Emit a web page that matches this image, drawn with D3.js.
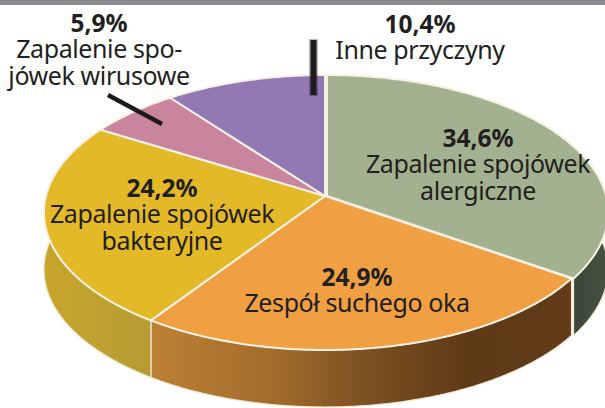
<!DOCTYPE html>
<html>
<head>
<meta charset="utf-8">
<script src="https://cdnjs.cloudflare.com/ajax/libs/d3/7.8.5/d3.min.js"></script>
<style>
  html, body { margin: 0; padding: 0; background: #fff; overflow: hidden; }
  text { font-family: "Noto Sans", sans-serif; fill: #231f20; }
</style>
</head>
<body>
<div id="chart"></div>
<script>
var names = ["Zapalenie spojówek alergiczne", "Zespół suchego oka", "Zapalenie spojówek bakteryjne", "Zapalenie spojówek wirusowe", "Inne przyczyny"];
var values = [34.6, 24.9, 24.2, 5.9, 10.4];
var valueLabels = ["34,6%", "24,9%", "24,2%", "5,9%", "10,4%"];
var labelLines = [
  ["Zapalenie spojówek", "alergiczne"],
  ["Zespół suchego oka"],
  ["Zapalenie spojówek", "bakteryjne"],
  ["Zapalenie spo-", "jówek wirusowe"],
  ["Inne przyczyny"]
];
var topColors = ["#a2b18f", "#f09f42", "#e4b927", "#c8859d", "#9279b4"];

var w = 605;
var h = 408;

// tilted disc: apex sits above the middle of the ellipse
var cx = 325;
var cy = 196;
var rx = 279;
var ry = 135.5;
var tilt = 0.12;
var depth = 57;

// the green slice sits a bit away from the rest
var firstSliceShift = 2;

// where each label block is centred, same order as names
var labelPos = [[478, 147], [357, 286], [162, 197], [99, 32], [420, 33]];

function project(a) {
  var u = Math.sin(a);
  var v = -Math.cos(a);
  var k = 1 - tilt * v;
  return [cx + rx * u / k, cy + ry * v / k];
}

function rim(d) {
  var n = Math.ceil((d.endAngle - d.startAngle) / 0.01);
  return d3.range(n + 1).map(function(i) {
    return project(d.startAngle + (d.endAngle - d.startAngle) * i / n);
  });
}

function shift(d, i) {
  return i === 0 ? "translate(" + firstSliceShift + ",0)" : null;
}

var svg = d3.select("#chart")
  .append("svg")
  .attr("width", w)
  .attr("height", h)
  .style("display", "block");

var defs = svg.append("defs");

function wallGradient(id, x1, x2, stops) {
  var g = defs.append("linearGradient")
    .attr("id", id)
    .attr("gradientUnits", "userSpaceOnUse")
    .attr("x1", x1).attr("x2", x2)
    .attr("y1", 0).attr("y2", 0);
  stops.forEach(function(s) {
    g.append("stop").attr("offset", s[0]).attr("stop-color", s[1]);
  });
}

wallGradient("wall0", 570, 605, [[0, "#3a4739"], [1, "#46523f"]]);
wallGradient("wall1", 155, 572, [[0, "#bd8034"], [0.3, "#a06a2b"], [0.5, "#7d5122"], [0.75, "#5f3a17"], [1, "#623c18"]]);
wallGradient("wall2", 44, 155, [[0, "#c9a62c"], [1, "#b59b34"]]);

var pie = d3.pie().sort(null).value(function(d) { return d; });
var slices = pie(values);
var line = d3.line();

// side wall first, the top face covers whatever is behind it
svg.append("g")
  .selectAll("path")
  .data(slices.slice(0, 3))
  .enter().append("path")
  .attr("transform", shift)
  .attr("d", function(d) {
    var top = rim(d);
    var bottom = top.map(function(p) { return [p[0], p[1] + depth]; }).reverse();
    return line(top.concat(bottom)) + "Z";
  })
  .style("fill", function(d, i) { return "url(#wall" + i + ")"; })
  .style("stroke", "#efe6d0")
  .style("stroke-width", 1.2);

svg.append("g")
  .selectAll("path")
  .data(slices)
  .enter().append("path")
  .attr("transform", shift)
  .attr("d", function(d) {
    return line([[cx, cy]].concat(rim(d))) + "Z";
  })
  .style("fill", function(d, i) { return topColors[i]; })
  .style("stroke", "#f7f1e4")
  .style("stroke-width", 2)
  .style("stroke-linejoin", "round");

// grey band along the top
svg.append("rect")
  .attr("width", w)
  .attr("height", 5)
  .style("fill", "#8a8b8f");

// leader lines, the vertical one has a soft grey edge in the original
var leader = svg.append("g").style("stroke", "#1c1a1b").style("fill", "none");
leader.append("line")
  .attr("x1", 313.5).attr("y1", 39)
  .attr("x2", 313.5).attr("y2", 96)
  .style("stroke-width", 9)
  .style("stroke-opacity", 0.3);
leader.append("line")
  .attr("x1", 313.5).attr("y1", 40)
  .attr("x2", 313.5).attr("y2", 95)
  .style("stroke-width", 6);
leader.append("line")
  .attr("x1", 108).attr("y1", 95)
  .attr("x2", 162).attr("y2", 124)
  .style("stroke-width", 4.5);

var labels = svg.append("g")
  .selectAll("g")
  .data(names)
  .enter().append("g")
  .attr("transform", function(d, i) {
    return "translate(" + labelPos[i][0] + "," + labelPos[i][1] + ")";
  })
  .attr("text-anchor", "middle");

labels.append("text")
  .style("font-weight", 700)
  .style("font-size", "24.5px")
  .text(function(d, i) { return valueLabels[i]; });

labels.each(function(d, i) {
  d3.select(this).selectAll("text.sub")
    .data(labelLines[i])
    .enter().append("text")
    .attr("class", "sub")
    .attr("y", function(t, j) { return 26 + j * 27; })
    .style("font-size", "25px")
    .style("letter-spacing", "-0.4px")
    .text(function(t) { return t; });
});
</script>
</body>
</html>
